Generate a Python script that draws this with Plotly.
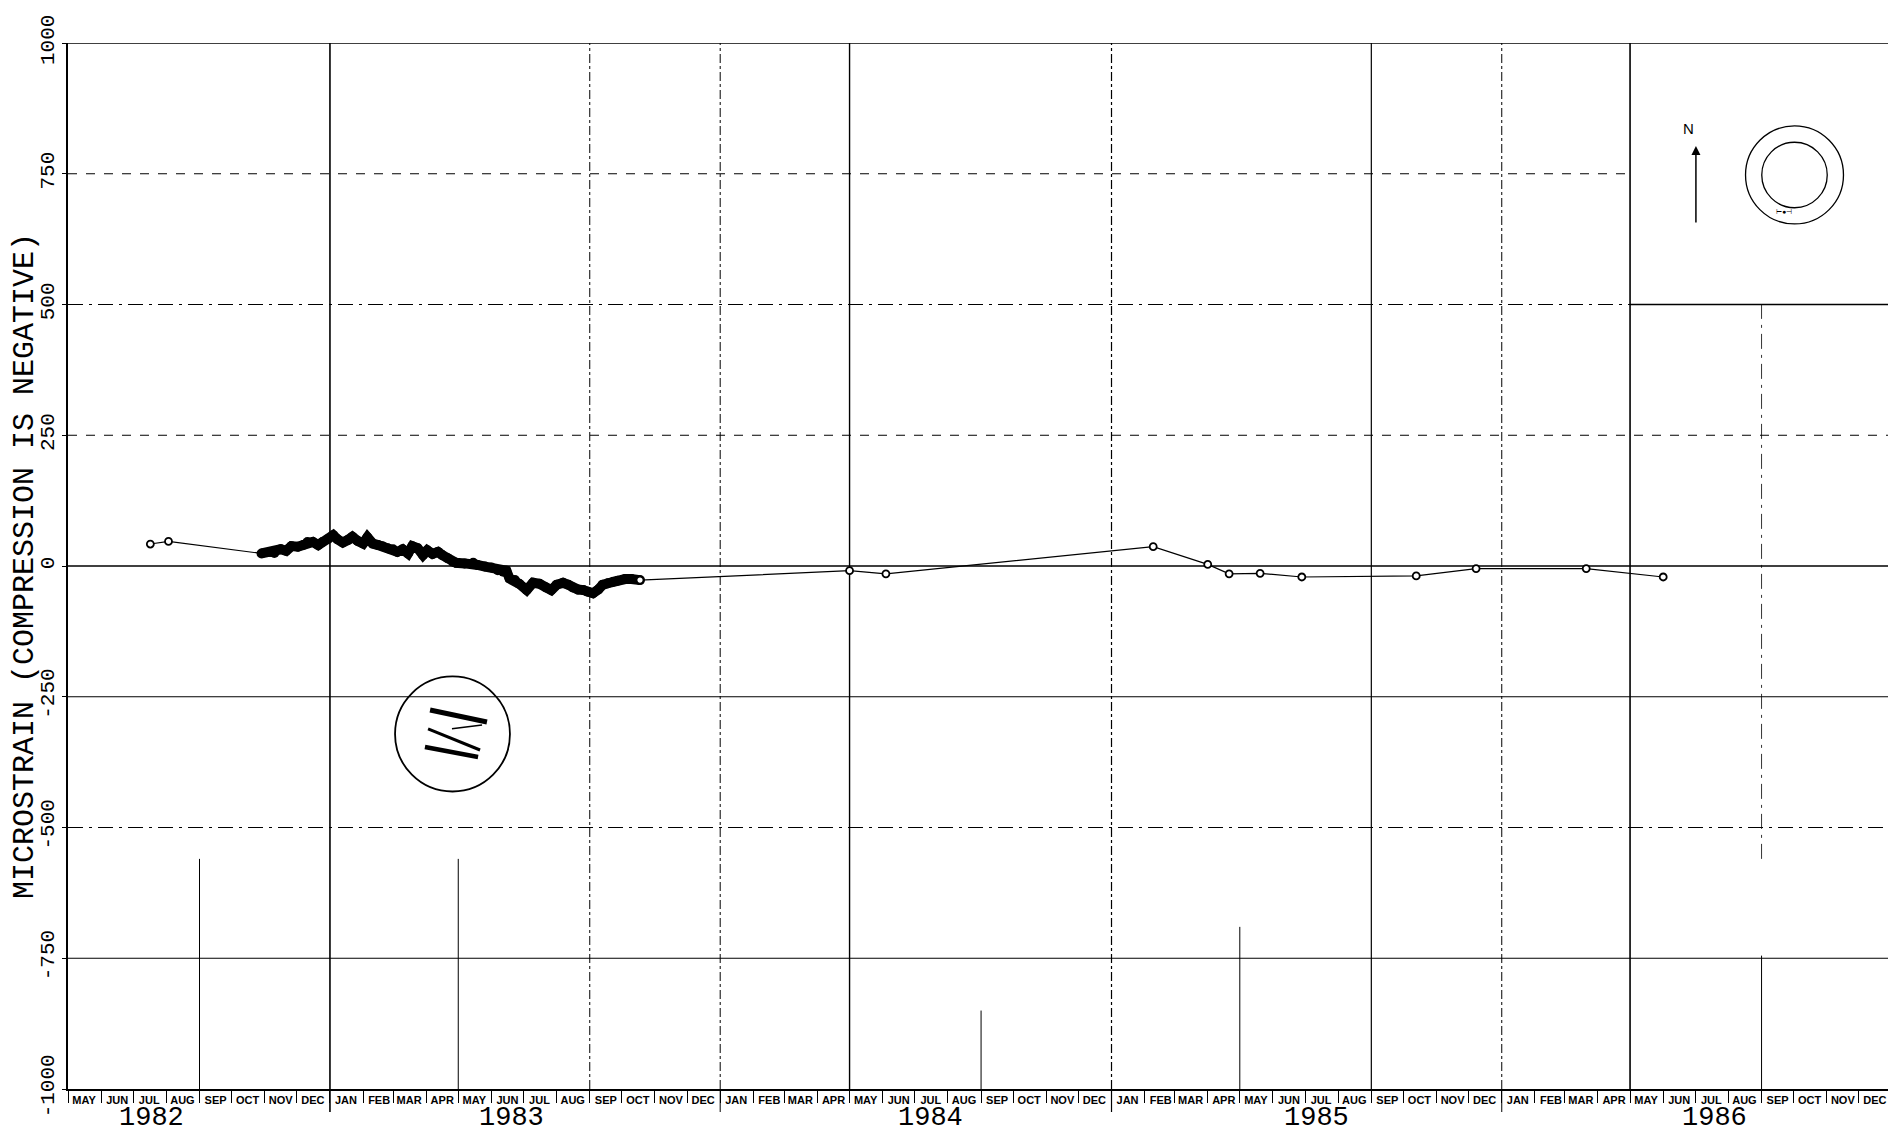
import plotly.graph_objects as go

# ---------------- data ----------------
early_dates = ["1982-07-17", "1982-08-03"]
early_vals = [42, 47]

dense_dates = [
    "1982-10-29", "1982-11-06", "1982-11-10", "1982-11-16", "1982-11-21", "1982-11-26",
    "1982-12-02", "1982-12-07", "1982-12-11", "1982-12-16", "1982-12-21", "1982-12-25",
    "1982-12-30", "1983-01-04", "1983-01-08", "1983-01-13", "1983-01-18", "1983-01-22",
    "1983-01-27", "1983-02-01", "1983-02-05", "1983-02-10", "1983-02-15", "1983-02-19",
    "1983-02-24", "1983-03-01", "1983-03-05", "1983-03-10", "1983-03-15", "1983-03-19",
    "1983-03-24", "1983-03-29", "1983-04-02", "1983-04-07", "1983-04-12", "1983-04-16",
    "1983-04-21", "1983-04-26", "1983-04-29", "1983-05-07", "1983-05-15", "1983-05-19",
    "1983-05-26", "1983-06-01", "1983-06-07", "1983-06-12", "1983-06-15", "1983-06-18",
    "1983-06-23", "1983-06-27", "1983-07-04", "1983-07-10", "1983-07-16", "1983-07-22",
    "1983-07-27", "1983-08-01", "1983-08-07", "1983-08-12", "1983-08-16", "1983-08-21",
    "1983-08-26", "1983-08-30", "1983-09-04", "1983-09-09", "1983-09-13", "1983-09-18",
    "1983-09-23", "1983-09-27", "1983-10-04", "1983-10-10", "1983-10-18",
]
dense_vals = [
    24, 27, 25, 32, 29, 38,
    37, 40, 46, 46, 40, 46,
    51, 59, 51, 45, 50, 56,
    48, 43, 55, 43, 40, 38,
    34, 32, 27, 32, 24, 38,
    34, 21, 30, 23, 27, 21,
    15, 8, 6, 5, 6, 2,
    -1, -3, -8, -11, -9, -24,
    -27, -34, -46, -32, -34, -41,
    -46, -36, -32, -36, -41, -45,
    -46, -49, -52, -45, -36, -33,
    -30, -28, -25, -25, -27,
]

late_dates = ["1984-05-01", "1984-06-04", "1985-02-09", "1985-04-01", "1985-04-21",
              "1985-05-20", "1985-06-28", "1985-10-13", "1985-12-08", "1986-03-21",
              "1986-06-01"]
late_vals = [-9, -15, 37, 3, -15, -14, -21, -19, -5, -5, -21]

y_ticks = [-1000, -750, -500, -250, 0, 250, 500, 750, 1000]
month_names = ["JAN", "FEB", "MAR", "APR", "MAY", "JUN", "JUL", "AUG", "SEP", "OCT", "NOV", "DEC"]
years = [1982, 1983, 1984, 1985, 1986]
year_label_dates = ["1982-07-18", "1983-06-20", "1984-07-16", "1985-07-12", "1986-07-19"]

# ---------------- derived ----------------
month_mid = []
month_text = []
for y in years:
    for m in range(1, 13):
        if y == 1982 and m < 5:
            continue
        month_mid.append(f"{y}-{m:02d}-16")
        month_text.append(month_names[m - 1])

x_start, x_end = "1982-05-01", "1987-01-01"
inset_left = "1986-05-01"

fig = go.Figure()

all_dates = early_dates + dense_dates + late_dates
all_vals = early_vals + dense_vals + late_vals
fig.add_trace(go.Scatter(x=all_dates, y=all_vals, mode="lines",
                         line=dict(color="black", width=1.2), hoverinfo="skip",
                         showlegend=False))
fig.add_trace(go.Scatter(x=dense_dates, y=dense_vals, mode="lines+markers",
                         line=dict(color="black", width=10),
                         marker=dict(size=10, color="black"), showlegend=False))
fig.add_trace(go.Scatter(x=early_dates + [dense_dates[-1]] + late_dates,
                         y=early_vals + [dense_vals[-1]] + late_vals, mode="markers",
                         marker=dict(symbol="circle", size=7, color="white",
                                     line=dict(color="black", width=1.8)),
                         showlegend=False))

shapes = []
# horizontal grid lines (those above 500 stop at the inset box)
h_style = {1000: ("solid", 1.5), 750: ("dash", 1), 500: ("longdashdot", 1),
           250: ("dash", 1), 0: ("solid", 1.3), -250: ("solid", 1.1),
           -500: ("longdashdot", 1), -750: ("solid", 1.1)}
for v in y_ticks:
    if v in h_style:
        d, w = h_style[v]
        if 500 < v < 1000:
            shapes.append(dict(type="line", xref="x", yref="y", x0=x_start, x1=inset_left,
                               y0=v, y1=v, line=dict(color="black", width=w, dash=d),
                               layer="below"))
        else:
            shapes.append(dict(type="line", xref="paper", yref="y", x0=0, x1=1, y0=v, y1=v,
                               line=dict(color="black", width=w, dash=d), layer="below"))

# vertical grid lines every four months: (date, dash, width, top, extends below axis)
v_lines = [
    ("1982-09-01", "solid", 1.0, -560, False),
    ("1983-01-01", "solid", 1.6, 1000, True),
    ("1983-05-01", "solid", 1.0, -560, False),
    ("1983-09-01", "dashdot", 1.0, 1000, False),
    ("1984-01-01", "dashdot", 1.0, 1000, True),
    ("1984-05-01", "solid", 1.4, 1000, False),
    ("1984-09-01", "solid", 1.0, -850, False),
    ("1985-01-01", "dashdot", 1.2, 1000, True),
    ("1985-05-01", "solid", 1.0, -690, False),
    ("1985-09-01", "solid", 1.2, 1000, False),
    ("1986-01-01", "dashdot", 1.0, 1000, True),
    ("1986-05-01", "solid", 1.6, 1000, False),
    ("1986-09-01", "solid", 1.0, -745, False),
    ("1987-01-01", "solid", 1.6, 1000, False),
]
for d, dash, w, top, ext in v_lines:
    shapes.append(dict(type="line", xref="x", yref="y", x0=d, x1=d, y0=-1000, y1=top,
                       line=dict(color="black", width=w, dash=dash), layer="below"))
    if top < 1000 and d == "1986-09-01":
        shapes.append(dict(type="line", xref="x", yref="y", x0=d, x1=d, y0=-560, y1=500,
                           line=dict(color="black", width=0.8, dash="longdashdot"),
                           layer="below"))
    if ext:
        shapes.append(dict(type="line", xref="x", yref="paper", x0=d, x1=d, y0=-0.022, y1=0,
                           line=dict(color="black", width=w)))

# inset box (upper right)
shapes.append(dict(type="line", xref="x", yref="y", x0=inset_left, x1=x_end, y0=500, y1=500,
                   line=dict(color="black", width=1.6)))
shapes.append(dict(type="circle", xref="paper", yref="paper", x0=0.9197, x1=0.9734,
                   y0=0.8270, y1=0.9207, line=dict(color="black", width=1.3)))
shapes.append(dict(type="circle", xref="paper", yref="paper", x0=0.9286, x1=0.9645,
                   y0=0.8425, y1=0.9051, line=dict(color="black", width=1.3)))

# stamp logo
shapes.append(dict(type="circle", xref="paper", yref="paper", x0=0.1793, x1=0.2423,
                   y0=0.2844, y1=0.3944, line=dict(color="black", width=1.8)))
logo_strokes = [
    (0.1985, 0.3623, 0.2297, 0.3509, 5),
    (0.2105, 0.3445, 0.2270, 0.3480, 1.5),
    (0.1974, 0.3442, 0.2259, 0.3241, 3),
    (0.1957, 0.3270, 0.2248, 0.3174, 4.5),
]
for x0, y0, x1, y1, w in logo_strokes:
    shapes.append(dict(type="line", xref="paper", yref="paper", x0=x0, y0=y0, x1=x1, y1=y1,
                       line=dict(color="black", width=w)))

annotations = []
for y, d in zip(years, year_label_dates):
    annotations.append(dict(x=d, y=-0.028, xref="x", yref="paper",
                            text=str(y), showarrow=False, yanchor="middle",
                            font=dict(family="Liberation Mono, DejaVu Sans Mono, monospace",
                                      size=27, color="black")))
annotations.append(dict(x=0.8925, y=0.9283, xref="paper", yref="paper", text="N",
                        showarrow=False, font=dict(family="Liberation Sans, Arial", size=15,
                                                   color="black")))
annotations.append(dict(x=0.8925, y=0.9015, xref="paper", yref="paper", text="",
                        showarrow=True, ax=0, ay=78, arrowhead=2, arrowsize=1.2,
                        arrowwidth=1.5, arrowcolor="black"))
annotations.append(dict(x=0.9461, y=0.8455, xref="paper", yref="paper", text="⊢●⊣",
                        showarrow=False, font=dict(size=7, color="black")))

# page body has an 8px default margin; plot area spans x 68..1892, y 43..1089 on screen
fig.update_layout(
    width=1888, height=1133,
    margin=dict(l=60, r=4, t=35, b=52),
    paper_bgcolor="white", plot_bgcolor="white",
    shapes=shapes, annotations=annotations,
    xaxis=dict(
        type="date", range=[x_start, x_end],
        tickmode="array", tickvals=month_mid, ticktext=month_text,
        ticks="", showgrid=False, zeroline=False,
        showline=True, linecolor="black", linewidth=1.5,
        tickfont=dict(family="Liberation Sans Narrow, Liberation Sans, Arial Narrow, sans-serif",
                      size=11, color="black", weight="bold"),
        tickangle=0,
        minor=dict(ticks="outside", ticklen=12, tickwidth=1.4, tickcolor="black",
                   dtick="M1", tick0="1982-05-01", showgrid=False),
    ),
    yaxis=dict(
        range=[-1000, 1000], tickmode="array", tickvals=y_ticks,
        ticktext=[str(v) for v in y_ticks],
        tickangle=-90, ticks="outside", ticklen=4, tickcolor="black",
        showgrid=False, zeroline=False,
        showline=True, linecolor="black", linewidth=2,
        tickfont=dict(family="Liberation Mono, DejaVu Sans Mono, monospace", size=21,
                      color="black"),
        title=dict(text="MICROSTRAIN (COMPRESSION IS NEGATIVE)", standoff=4,
                   font=dict(family="Liberation Mono, DejaVu Sans Mono, monospace", size=30,
                             color="black")),
    ),
)

fig.write_html("out.html")
